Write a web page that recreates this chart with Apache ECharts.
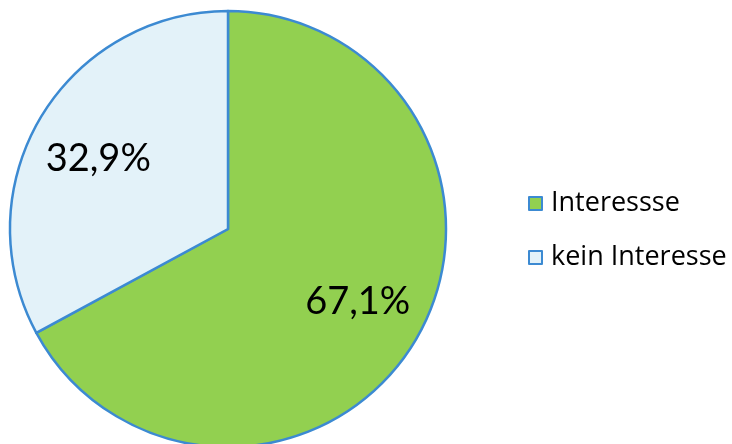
<!DOCTYPE html>
<html><head><meta charset="utf-8">
<script src="https://cdn.jsdelivr.net/npm/echarts@6/dist/echarts.min.js"></script>
<style>html,body{margin:0;padding:0;background:#fff}#c{width:732px;height:444px}</style>
</head><body><div id="c"></div>
<script>
const categories = ['Interessse', 'kein Interesse'];
const values = [67.1, 32.9];
const colors = ['#92D050', '#E3F2F9'];
const border = '#3C8AD2';
const labelOffsets = [[0, -5], [0, 7]];

const chart = echarts.init(document.getElementById('c'), null, {renderer: 'canvas'});
const data = categories.map((n, i) => ({name: n, value: values[i], itemStyle: {color: colors[i]}}));
chart.setOption({
  animation: false,
  legend: {
    orient: 'vertical', left: 523, top: 185, itemGap: 27,
    itemWidth: 13, itemHeight: 13, icon: 'rect',
    textStyle: {fontFamily: 'Open Sans', fontSize: 27, lineHeight: 27, color: '#000', padding: [0, 0, 0, 4]},
    data: categories.map((n, i) => ({name: n, itemStyle: {color: colors[i], borderColor: border, borderWidth: 2}}))
  },
  series: [{
    type: 'pie', center: [228, 229], radius: [0, 218], startAngle: 90, clockwise: true,
    silent: true, label: {show: false}, labelLine: {show: false},
    itemStyle: {borderColor: border, borderWidth: 2.5},
    data: data
  }, {
    type: 'pie', center: [228, 229], radius: [144, 152], startAngle: 90, clockwise: true,
    silent: true, labelLine: {show: false},
    itemStyle: {color: 'rgba(0,0,0,0)', borderWidth: 0},
    label: {show: true, position: 'inside', fontFamily: 'Lato', fontSize: 38, color: '#000',
      formatter: p => p.value.toFixed(1).replace('.', ',') + '%'},
    data: categories.map((n, i) => ({name: n, value: values[i], label: {offset: labelOffsets[i]}}))
  }]
});
</script></body></html>
